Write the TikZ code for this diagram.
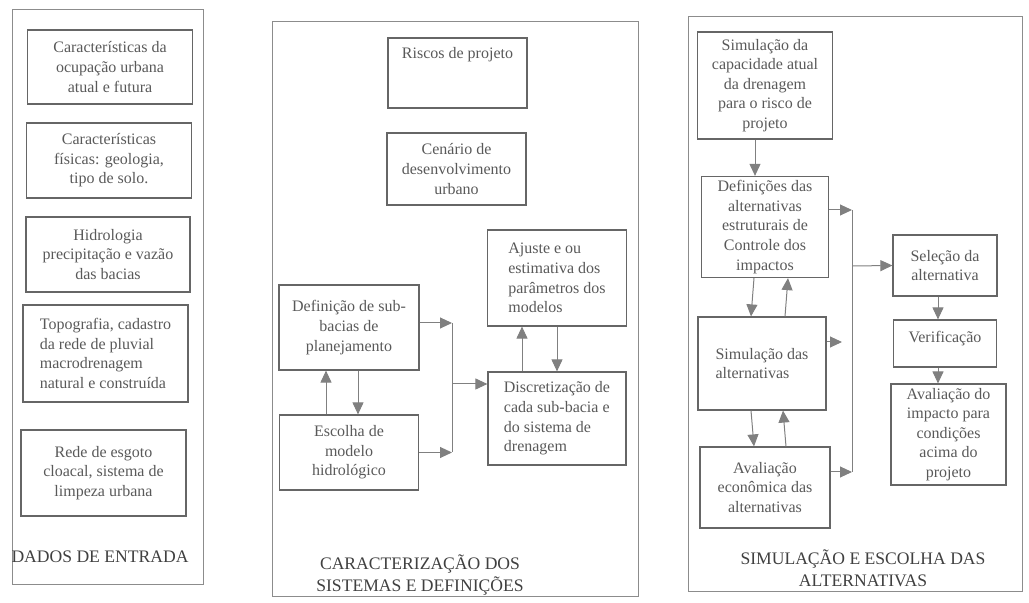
\documentclass[tikz,border=0pt]{standalone}
\usepackage{fontspec}
\IfFontExistsTF{LiberationSerif-Regular.ttf}{\setmainfont{LiberationSerif-Regular.ttf}}{\setmainfont{Liberation Serif}}
\usetikzlibrary{arrows.meta}

\tikzset{
  caixa/.style={draw=black!60, line width=0.6pt, align=center, inner sep=2pt, text=black!65, font=\fontsize{8}{9.8}\selectfont},
  seta/.style={draw=black!50, line width=0.5pt, -{Triangle[length=6pt,width=5.5pt]}},
  liga/.style={draw=black!50, line width=0.5pt},
  moldura/.style={draw=black!45, line width=0.5pt},
  titulo/.style={align=center, text=black!75, font=\fontsize{8.8}{11}\selectfont},
}

\begin{document}
\begin{tikzpicture}[x=0.5pt,y=-0.5pt]
\useasboundingbox (0,0) rectangle (1029,603);
		%Molduras
		\draw[moldura] (12,10) rectangle (203,585);
		\draw[moldura] (272,22) rectangle (638,597);
		\draw[moldura] (688,17) rectangle (1022,592);
		%Dados de entrada
		\node[caixa, minimum width=82.5pt, minimum height=37pt] (ocupacao) at (110,67) {Características da\\ocupação urbana\\atual e futura};
		\node[caixa, minimum width=82.5pt, minimum height=37.5pt] (fisicas) at (109,160.5) {Características\\físicas: geologia,\\tipo de solo.};
		\node[caixa, minimum width=82pt, minimum height=37.5pt] (hidrologia) at (108,254.5) {Hidrologia\\precipitação e vazão\\das bacias};
		\node[caixa, minimum width=82.5pt, minimum height=48.5pt, align=left] (topografia) at (105.5,353.5) {Topografia, cadastro\\da rede de pluvial\\macrodrenagem\\natural e construída};
		\node[caixa, minimum width=82.5pt, minimum height=43pt] (esgoto) at (103.5,473) {Rede de esgoto\\cloacal, sistema de\\limpeza urbana};
		\node[titulo] (tdados) at (100,557) {DADOS DE ENTRADA};
		%Caracterizacao
		\node[caixa, minimum width=69.5pt, minimum height=35pt, text depth=20pt] (riscos) at (457.5,73) {Riscos de projeto};
		\node[caixa, minimum width=69.5pt, minimum height=36pt] (cenario) at (456.5,169) {Cenário de\\desenvolvimento\\urbano};
		\node[caixa, minimum width=69.5pt, minimum height=48pt, align=left] (ajuste) at (557,278) {Ajuste e ou\\estimativa dos\\parâmetros dos\\modelos};
		\node[caixa, minimum width=70pt, minimum height=42.5pt] (subbacias) at (349,327.5) {Definição de sub-\\bacias de\\planejamento};
		\node[caixa, minimum width=69.5pt, minimum height=37.5pt] (escolha) at (349,452.5) {Escolha de\\modelo\\hidrológico};
		\node[caixa, minimum width=69pt, minimum height=46.5pt, align=left] (discret) at (557,418.5) {Discretização de\\cada sub-bacia e\\do sistema de\\drenagem};
		\node[titulo] (tcaract) at (420,575) {CARACTERIZAÇÃO DOS\\SISTEMAS E DEFINIÇÕES};
		\coordinate (j1) at (452,323);
		\coordinate (j2) at (452,452.5);
		\coordinate (j3) at (452,384);
		\draw[seta] (j1 -| subbacias.east) -- (j1);
		\draw[seta] (escolha.east) -- (j2);
		\draw[liga] (j1) -- (j2);
		\draw[seta] (j3) -- (j3 -| discret.west);
		\draw[seta] ([xshift=-11.5pt]escolha.north) -- ([xshift=-11.5pt]subbacias.south);
		\draw[seta] ([xshift=4.5pt]subbacias.south) -- ([xshift=4.5pt]escolha.north);
		\draw[seta] ([xshift=-17.5pt]discret.north) -- ([xshift=-17.5pt]ajuste.south);
		\draw[seta] (ajuste.south) -- (discret.north);
		%Simulacao
		\node[caixa, minimum width=67.5pt, minimum height=53.5pt] (simcap) at (765,85.5) {Simulação da\\capacidade atual\\da drenagem\\para o risco de\\projeto};
		\node[caixa, minimum width=63.5pt, minimum height=50pt] (defalt) at (765,227) {Definições das\\alternativas\\estruturais de\\Controle dos\\impactos};
		\node[caixa, minimum width=64pt, minimum height=46.5pt, align=left] (simalt) at (762,363.5) {Simulação das\\alternativas};
		\node[caixa, minimum width=65pt, minimum height=40.5pt] (avaleco) at (765,487.5) {Avaliação\\econômica das\\alternativas};
		\node[caixa, minimum width=52pt, minimum height=30.5pt] (selecao) at (945,265.5) {Seleção da\\alternativa};
		\node[caixa, minimum width=51.5pt, minimum height=23.5pt, text depth=7pt] (verif) at (945,343.5) {Verificação};
		\node[caixa, minimum width=57.5pt, minimum height=42.5pt] (avalimp) at (948.5,434.5) {Avaliação do\\impacto para\\condições\\acima do\\projeto};
		\node[titulo] (tsimul) at (863,568) {SIMULAÇÃO E ESCOLHA DAS\\ALTERNATIVAS};
		\coordinate (k1) at (852,210);
		\coordinate (k2) at (842,342);
		\coordinate (k3) at (852,472);
		\coordinate (k4) at (852,266);
		\draw[seta] ([xshift=-5pt]simcap.south) -- ([xshift=-5pt]defalt.north);
		\draw[seta] ([xshift=-5.5pt]defalt.south) -- ([xshift=-5.5pt]simalt.south |- simalt.north);
		\draw[seta] ([xshift=11.5pt]simalt.north) -- ([xshift=11.5pt]defalt.south);
		\draw[seta] ([xshift=-5.5pt]simalt.south) -- ([xshift=-5.5pt]avaleco.north);
		\draw[seta] ([xshift=10.5pt]avaleco.north) -- ([xshift=10.5pt]simalt.south);
		\draw[seta] (k1 -| defalt.east) -- (k1);
		\draw[seta] (k2 -| simalt.east) -- (k2);
		\draw[seta] (k3 -| avaleco.east) -- (k3);
		\draw[liga] (k1) -- (k3);
		\draw[seta] (k4) -- (selecao.west);
		\draw[seta] ([xshift=-3.5pt]selecao.south) -- ([xshift=-3.5pt]verif.north);
		\draw[seta] ([xshift=-3.5pt]verif.south) -- ([xshift=-3.5pt]verif.south |- avalimp.north);
\end{tikzpicture}
\end{document}
